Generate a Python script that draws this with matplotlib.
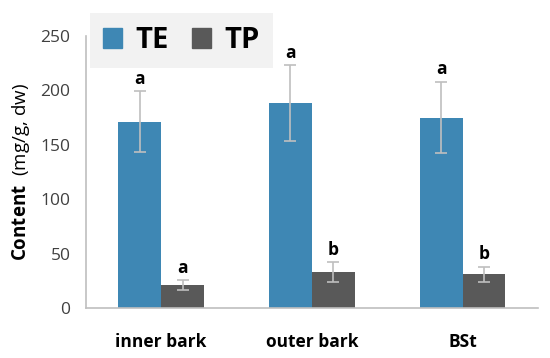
"""Bar chart of TE and TP content per bark tissue."""

import matplotlib
matplotlib.use("Agg")
import matplotlib.pyplot as plt
import numpy as np
from matplotlib.patches import Patch

CATEGORIES = ["inner bark", "outer bark", "BSt"]
TE_VALUES = [171, 188, 175]
TE_ERRORS = [28, 35, 33]
TP_VALUES = [21, 33, 31]
TP_ERRORS = [4.5, 9, 7]
TE_LETTERS = ["a", "a", "a"]
TP_LETTERS = ["a", "b", "b"]
Y_TICKS = [0, 50, 100, 150, 200, 250]

TE_COLOR = "#3E87B4"
TP_COLOR = "#595959"
ERR_COLOR = "#BFBFBF"

plt.rcParams["font.family"] = ["Open Sans", "DejaVu Sans"]
plt.rcParams["mathtext.fontset"] = "custom"
plt.rcParams["mathtext.bf"] = "Open Sans:bold"
plt.rcParams["mathtext.rm"] = "Open Sans"

fig = plt.figure(figsize=(5.5, 3.58), dpi=100)
ax = fig.add_axes([0.156, 0.14, 0.822, 0.7594])

x = np.arange(len(CATEGORIES))
width = 0.285
err_kw = dict(ecolor=ERR_COLOR, elinewidth=1.2, capsize=4, capthick=1.2)
ax.bar(x - width / 2, TE_VALUES, width, color=TE_COLOR, yerr=TE_ERRORS, error_kw=err_kw, zorder=2)
ax.bar(x + width / 2, TP_VALUES, width, color=TP_COLOR, yerr=TP_ERRORS, error_kw=err_kw, zorder=2)

for i in range(len(CATEGORIES)):
    ax.text(x[i] - width / 2, TE_VALUES[i] + TE_ERRORS[i] + 3, TE_LETTERS[i],
            ha="center", va="bottom", fontsize=12.5, fontweight="bold", zorder=5)
    ax.text(x[i] + width / 2, TP_VALUES[i] + TP_ERRORS[i] + 3, TP_LETTERS[i],
            ha="center", va="bottom", fontsize=12.5, fontweight="bold", zorder=5)

ax.set_xlim(-0.5, len(CATEGORIES) - 0.5)
ax.set_ylim(0, 250)
ax.set_yticks(Y_TICKS)
ax.set_xticks(x)
ax.set_xticklabels(CATEGORIES, fontsize=12.5, fontweight="bold")
ax.tick_params(axis="both", length=0, labelsize=12.5, colors="#404040")
ax.tick_params(axis="x", pad=18, labelcolor="black")
ax.tick_params(axis="y", pad=11)
for side in ["top", "right"]:
    ax.spines[side].set_visible(False)
for side in ["left", "bottom"]:
    ax.spines[side].set_color(ERR_COLOR)
    ax.spines[side].set_linewidth(1.2)

ax.set_ylabel(r"$\mathbf{Content}$  (mg/g, dw)", fontsize=13.5, labelpad=6)

handles = [Patch(color=TE_COLOR, label="TE"), Patch(color=TP_COLOR, label="TP")]
leg = fig.legend(handles=handles, loc="upper left", bbox_to_anchor=(0.164, 0.964),
                 ncol=2, frameon=True, fancybox=False, facecolor="#F2F2F2",
                 edgecolor="none", framealpha=1, handlelength=0.65, handleheight=0.65,
                 handletextpad=0.45, columnspacing=0.8, borderpad=0.45,
                 borderaxespad=0, prop={"size": 21, "weight": "bold"})

fig.savefig("out.png", dpi=100)
